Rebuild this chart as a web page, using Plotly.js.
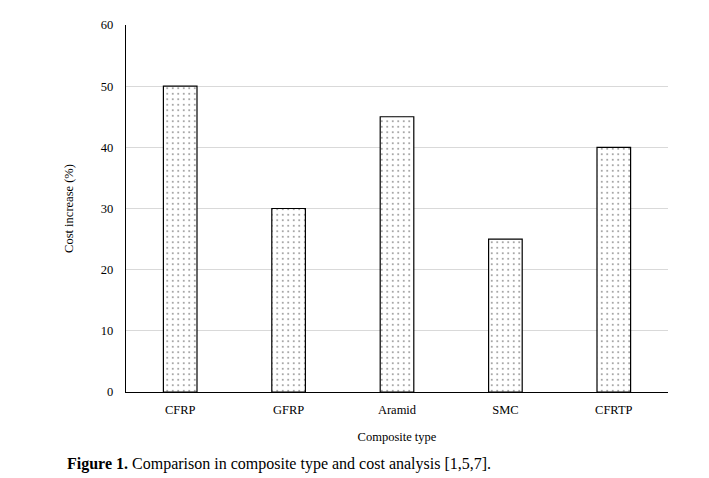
<!DOCTYPE html>
<html><head><meta charset="utf-8">
<script src="https://cdn.plot.ly/plotly-3.0.1.min.js"></script>
<style>body{margin:0;background:#fff}#c{width:709px;height:478px}</style>
</head><body><div id="c"></div>
<script>
const categories = ["CFRP", "GFRP", "Aramid", "SMC", "CFRTP"];
const costIncrease = [50, 30, 45, 25, 40];
const yTicks = [0, 10, 20, 30, 40, 50, 60];

const serif = "Liberation Serif, Times New Roman, serif";
const trace = {
  type: "bar", x: categories, y: costIncrease, width: 0.31,
  marker: {
    color: "#ffffff",
    line: {color: "#000000", width: 1.2},
    pattern: {shape: ".", fgcolor: "#000000", bgcolor: "#ffffff", size: 5.5, solidity: 0.07, fillmode: "overlay"}
  },
  hoverinfo: "none"
};
const layout = {
  width: 709, height: 478,
  margin: {l: 126, r: 41, t: 25, b: 86},
  paper_bgcolor: "#fff", plot_bgcolor: "#fff",
  showlegend: false,
  font: {family: serif, size: 12, color: "#000"},
  xaxis: {
    showline: true, linecolor: "#000", linewidth: 1.2, ticks: "",
    tickfont: {family: serif, size: 12.5, color: "#000"}, ticklabelstandoff: 6,
    title: {text: "Composite type", font: {family: serif, size: 12.5, color: "#000"}, standoff: 16}
  },
  yaxis: {
    range: [0, 60], tickvals: yTicks, showgrid: true, gridcolor: "#d9d9d9", gridwidth: 1,
    showline: true, linecolor: "#000", linewidth: 1.2, ticks: "", zeroline: false,
    tickfont: {family: serif, size: 12.5, color: "#000"}, ticklabelstandoff: 9,
    title: {text: "Cost increase (%)", font: {family: serif, size: 12.5, color: "#000"}, standoff: 24}
  },
  annotations: [{
    xref: "paper", yref: "paper", x: -0.113, y: -0.165, xanchor: "left", yanchor: "top",
    showarrow: false, align: "left",
    text: "<b>Figure 1.</b> Comparison in composite type and cost analysis [1,5,7].",
    font: {family: serif, size: 16, color: "#000"}
  }]
};
Plotly.newPlot("c", [trace], layout, {displayModeBar: false, staticPlot: true});
</script></body></html>
